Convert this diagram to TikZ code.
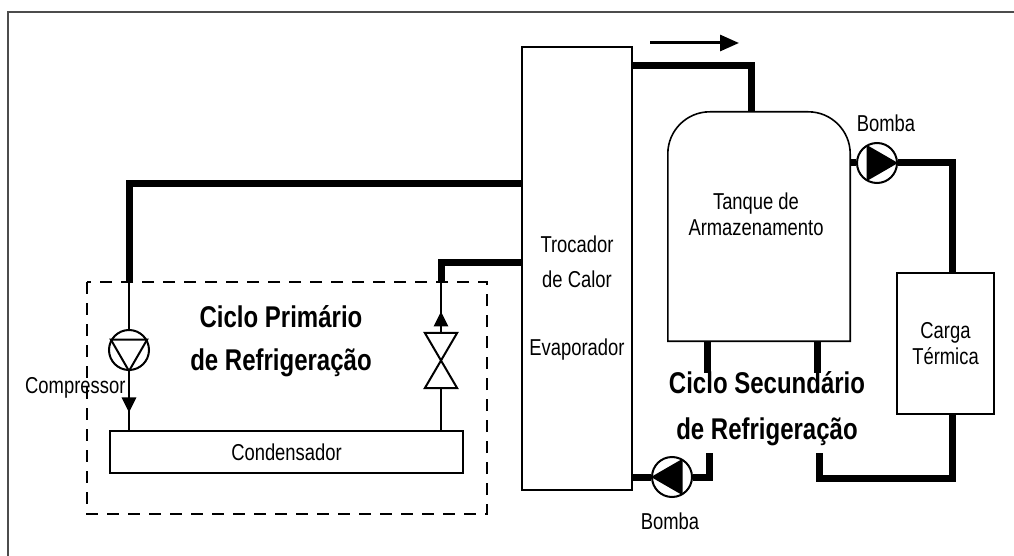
\documentclass[tikz,border=0pt]{standalone}
\usepackage{fontspec}
\setmainfont[FakeStretch=0.8]{Liberation Sans}
\usetikzlibrary{arrows.meta, decorations.markings}

\begin{document}
\begin{tikzpicture}[x=1pt, y=-1pt,
 every node/.style={font=\fontsize{23}{26}\selectfont, inner sep=0pt},
 box/.style={draw, line width=1.6pt},
 txt/.style={align=center},
 bigtxt/.style={align=center, font=\fontsize{30}{43}\bfseries\selectfont},
 pump/.style={circle, draw, line width=2pt, minimum size=40pt},
 pipe/.style={line width=7pt},
 line/.style={line width=2.8pt},
 flowmark/.style={postaction={decorate}, decoration={markings,
   mark=at position #1 with {\arrow{Triangle[length=15pt, width=14pt]}}}}
]
 \useasboundingbox (0,0) rectangle (1014,556);
 \draw[line width=2pt, black!70] (1014,12) -- (8,12) -- (8,556);

 % trocador / tanque / carga
 \node[box, minimum width=110pt, minimum height=443pt] (troc) at (577,268.5) {};
 \node[txt, font=\fontsize{23}{35}\selectfont] (trocL) at (577,262) {Trocador\\de Calor};
 \node (evap) at (577,350) {Evaporador};
 \node[minimum width=182pt, minimum height=229pt] (tanque) at (759,226.5) {};
 \draw[box] (tanque.south west) -- ([yshift=-42pt]tanque.north west)
  arc[start angle=180, end angle=90, radius=42pt] -- ([xshift=-42pt]tanque.north east)
  arc[start angle=90, end angle=0, radius=42pt] -- (tanque.south east) -- cycle;
 \node[txt] (tanqueL) at (756,214) {Tanque de\\Armazenamento};
 \node[box, txt, minimum width=97pt, minimum height=141pt] (carga) at (945.5,343.5) {Carga\\Térmica};

 % ciclo primario
 \draw[line width=1.8pt, dash pattern=on 12pt off 9pt] (87,282) rectangle (487,514);
 \node[box, minimum width=353pt, minimum height=42pt] (cond) at (286.5,452) {Condensador};
 \node[pump] (comp) at (129,350) {};
 \draw[line width=2pt] (comp.150) -- (comp.30) -- (comp.270) -- cycle;
 \node[anchor=west] (compL) at (25,388) {Compressor};
 \node[minimum width=32pt, minimum height=55pt] (valv) at (441,360.5) {};
 \draw[line width=2pt] (valv.north west) -- (valv.north east) -- (valv.south west)
  -- (valv.south east) -- cycle;
 \node[bigtxt] (prim) at (281,341.5) {Ciclo Primário\\de Refrigeração};

 \coordinate (l1) at (129,184);
 \coordinate (l2) at (129,282);
 \draw[pipe] (troc.west |- l1) -- (l1) -- (l2);
 \draw[line] (l2) -- (comp.north);
 \draw[line, flowmark=0.7] (comp.south) -- (comp.south |- cond.north);
 \coordinate (v1) at (441,262);
 \coordinate (v2) at (441,282);
 \draw[pipe] (troc.west |- v1) -- (v1) -- (v2);
 \draw[line, flowmark=0.42] (valv.north) -- (v2);
 \draw[line] (valv.south) -- (valv.south |- cond.north);

 % ciclo secundario
 \coordinate (f1) at (650,43);
 \coordinate (f2) at (739,43);
 \draw[line width=3pt, -{Triangle[length=19pt, width=16pt]}] (f1) -- (f2);
 \coordinate (t1) at (751,66);
 \draw[pipe] (troc.east |- t1) -- (t1) -- (t1 |- tanque.north);

 \node[pump] (bomba1) at (877,163) {};
 \fill (bomba1.120) -- (bomba1.0) -- (bomba1.240) -- cycle;
 \node (bomba1L) at (886,123) {Bomba};
 \coordinate (c1) at (952,163);
 \draw[pipe] (tanque.east |- bomba1) -- (bomba1.west);
 \draw[pipe] (bomba1.east) -- (c1) -- (c1 |- carga.north);

 \coordinate (c2) at (952,478);
 \coordinate (c3) at (819,453);
 \draw[pipe] (c1 |- carga.south) -- (c2) -- (c3 |- c2) -- (c3);

 \coordinate (s1) at (707,373);
 \coordinate (s2) at (817,373);
 \draw[pipe] (s1 |- tanque.south) -- (s1);
 \draw[pipe] (s2 |- tanque.south) -- (s2);

 \node[pump] (bomba2) at (672,477) {};
 \fill (bomba2.180) -- (bomba2.60) -- (bomba2.300) -- cycle;
 \node (bomba2L) at (670,521) {Bomba};
 \coordinate (b1) at (709,453);
 \draw[pipe] (troc.east |- bomba2) -- (bomba2.west);
 \draw[pipe] (bomba2.east) -- (b1 |- bomba2) -- (b1);

 \node[bigtxt, font=\fontsize{30}{46}\bfseries\selectfont] (sec) at (767,409) {Ciclo Secundário\\de Refrigeração};
\end{tikzpicture}
\end{document}
